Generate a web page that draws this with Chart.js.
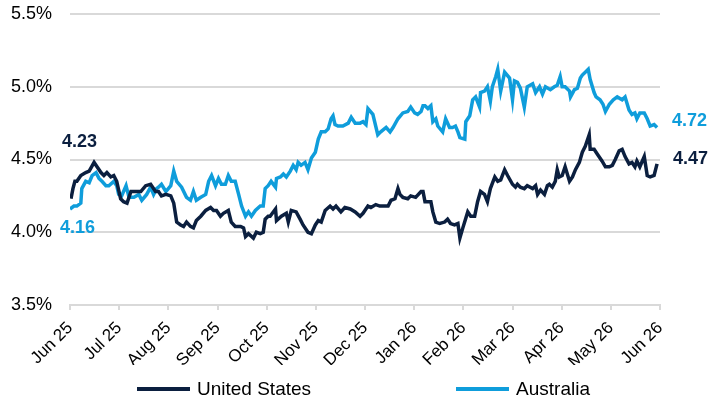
<!DOCTYPE html>
<html>
<head>
<meta charset="utf-8">
<script src="https://cdn.jsdelivr.net/npm/chart.js@4.4.1/dist/chart.umd.min.js"></script>
<style>
  body { margin: 0; background: #fff; }
  #wrap { position: relative; width: 714px; height: 404px; }
  #legend {
    position: absolute; left: 137px; top: 376px;
    font: 19px "Liberation Sans", Arial, sans-serif; color: #000;
    white-space: nowrap; line-height: 26px;
  }
  #legend .item { display: inline-block; }
  #legend .item + .item { margin-left: 145px; }
  #legend i { display: inline-block; width: 53px; height: 4px; vertical-align: middle; margin-right: 7px; position: relative; top: -1px; }
</style>
</head>
<body>
<div id="wrap">
  <canvas id="yieldChart"></canvas>
  <div id="legend"></div>
</div>
<script>
// month ticks (x = months since Jun 2025)
const monthLabels = ['Jun 25', 'Jul 25', 'Aug 25', 'Sep 25', 'Oct 25', 'Nov 25', 'Dec 25',
    'Jan 26', 'Feb 26', 'Mar 26', 'Apr 26', 'May 26', 'Jun 26'];

const yTicks = [3.5, 4.0, 4.5, 5.0, 5.5];

const seriesNames = ['United States', 'Australia'];
const seriesColors = ['#0b1f3f', '#0f9ddb'];

// United States 10y yield, %
const usMonths = [0.02,0.06,0.10,0.14,0.22,0.32,0.39,0.49,0.55,0.63,
    0.69,0.75,0.83,0.89,0.95,1.03,1.09,1.16,1.24,1.34,
    1.44,1.54,1.64,1.74,1.80,1.86,1.95,2.05,2.11,2.17,
    2.25,2.31,2.37,2.45,2.51,2.57,2.66,2.76,2.86,2.92,
    2.98,3.06,3.12,3.22,3.28,3.36,3.47,3.53,3.57,3.63,
    3.73,3.79,3.87,3.93,3.97,4.03,4.07,4.18,4.20,4.30,
    4.40,4.44,4.50,4.60,4.68,4.74,4.84,4.91,4.99,5.05,
    5.11,5.19,5.29,5.35,5.41,5.51,5.59,5.70,5.80,5.90,
    5.96,6.06,6.12,6.22,6.30,6.41,6.47,6.53,6.61,6.67,
    6.71,6.77,6.87,6.93,7.03,7.14,7.18,7.22,7.28,7.34,
    7.38,7.44,7.52,7.62,7.68,7.74,7.82,7.89,7.93,7.99,
    8.09,8.15,8.23,8.29,8.35,8.43,8.49,8.55,8.64,8.70,
    8.76,8.84,8.90,9.00,9.06,9.10,9.16,9.24,9.30,9.41,
    9.47,9.51,9.57,9.65,9.71,9.75,9.81,9.87,9.91,9.95,
    10.01,10.07,10.16,10.22,10.28,10.36,10.42,10.48,10.56,10.58,
    10.66,10.72,10.82,10.89,10.97,11.03,11.09,11.17,11.23,11.29,
    11.37,11.43,11.49,11.53,11.59,11.68,11.74,11.80,11.88,11.94];
const usValues = [4.23,4.30,4.35,4.35,4.39,4.41,4.42,4.48,4.45,4.41,
    4.39,4.41,4.38,4.39,4.35,4.23,4.21,4.20,4.28,4.28,
    4.28,4.32,4.33,4.28,4.28,4.25,4.26,4.25,4.20,4.07,
    4.05,4.04,4.07,4.04,4.03,4.08,4.11,4.15,4.17,4.15,
    4.15,4.11,4.13,4.15,4.07,4.04,4.04,4.03,3.97,3.99,
    3.96,4.00,3.99,4.00,4.09,4.11,4.11,4.16,4.08,4.11,
    4.13,4.07,4.15,4.14,4.09,4.05,4.00,3.99,4.05,4.08,
    4.07,4.15,4.18,4.16,4.18,4.14,4.17,4.16,4.14,4.11,
    4.13,4.18,4.17,4.19,4.18,4.18,4.18,4.22,4.23,4.30,
    4.26,4.24,4.23,4.25,4.24,4.28,4.28,4.21,4.21,4.21,
    4.14,4.07,4.06,4.07,4.09,4.06,4.05,4.06,3.96,4.03,
    4.14,4.11,4.11,4.21,4.28,4.26,4.21,4.30,4.38,4.35,
    4.36,4.43,4.39,4.33,4.31,4.33,4.31,4.30,4.32,4.30,
    4.32,4.26,4.29,4.26,4.32,4.33,4.31,4.35,4.43,4.38,
    4.39,4.45,4.35,4.38,4.43,4.48,4.55,4.59,4.67,4.57,
    4.57,4.54,4.49,4.45,4.45,4.46,4.50,4.56,4.57,4.52,
    4.47,4.48,4.45,4.49,4.45,4.52,4.39,4.38,4.39,4.47];

// Australia 10y yield, %
const auMonths = [0.00,0.02,0.08,0.14,0.22,0.24,0.32,0.39,0.45,0.53,
    0.59,0.65,0.73,0.79,0.89,0.95,0.99,1.05,1.14,1.20,
    1.30,1.40,1.46,1.56,1.64,1.70,1.76,1.80,1.86,1.95,
    2.05,2.11,2.17,2.27,2.37,2.45,2.51,2.57,2.66,2.76,
    2.82,2.88,2.96,3.02,3.08,3.16,3.22,3.28,3.36,3.43,
    3.49,3.57,3.63,3.69,3.77,3.87,3.93,3.97,4.03,4.09,
    4.18,4.20,4.28,4.34,4.40,4.48,4.54,4.60,4.64,4.70,
    4.78,4.84,4.91,4.99,5.05,5.11,5.19,5.25,5.31,5.35,
    5.39,5.45,5.55,5.66,5.72,5.80,5.90,5.96,6.02,6.06,
    6.16,6.26,6.32,6.43,6.51,6.57,6.67,6.77,6.87,6.93,
    7.01,7.07,7.14,7.18,7.22,7.28,7.34,7.38,7.44,7.48,
    7.58,7.64,7.72,7.78,7.84,7.89,7.93,8.03,8.05,8.13,
    8.19,8.25,8.33,8.35,8.43,8.49,8.55,8.59,8.66,8.70,
    8.76,8.84,8.94,9.00,9.04,9.10,9.16,9.24,9.30,9.41,
    9.47,9.55,9.61,9.67,9.77,9.85,9.91,9.97,10.01,10.07,
    10.16,10.18,10.26,10.32,10.38,10.42,10.48,10.54,10.58,10.66,
    10.70,10.78,10.84,10.89,10.97,11.05,11.13,11.23,11.29,11.37,
    11.43,11.49,11.53,11.59,11.68,11.74,11.80,11.88,11.94];
const auValues = [4.16,4.16,4.18,4.18,4.20,4.30,4.35,4.34,4.39,4.41,
    4.37,4.35,4.32,4.32,4.35,4.32,4.26,4.25,4.32,4.24,
    4.24,4.26,4.22,4.26,4.31,4.26,4.30,4.31,4.33,4.28,
    4.32,4.42,4.35,4.31,4.24,4.22,4.28,4.22,4.24,4.26,
    4.35,4.39,4.32,4.37,4.33,4.33,4.39,4.35,4.35,4.26,
    4.18,4.11,4.14,4.11,4.15,4.18,4.18,4.30,4.32,4.35,
    4.31,4.37,4.38,4.40,4.38,4.42,4.46,4.43,4.48,4.46,
    4.48,4.43,4.51,4.55,4.64,4.69,4.69,4.71,4.78,4.80,
    4.74,4.73,4.73,4.75,4.79,4.75,4.75,4.76,4.74,4.85,
    4.81,4.67,4.69,4.72,4.69,4.72,4.78,4.82,4.83,4.86,
    4.82,4.81,4.83,4.87,4.87,4.85,4.87,4.76,4.78,4.73,
    4.69,4.78,4.72,4.72,4.73,4.69,4.65,4.64,4.76,4.80,
    4.91,4.93,4.86,4.96,4.97,5.00,4.90,5.00,5.07,5.12,
    4.97,5.10,5.06,4.91,5.04,5.03,4.99,4.86,5.00,5.02,
    4.96,5.00,4.95,5.00,4.98,5.00,5.01,5.07,5.00,5.00,
    4.97,4.93,4.98,4.99,5.06,5.08,5.10,5.12,5.05,4.96,
    4.93,4.91,4.88,4.83,4.88,4.91,4.93,4.91,4.93,4.84,
    4.81,4.82,4.78,4.82,4.82,4.78,4.73,4.74,4.72];

const FONT = '"Liberation Sans", Arial, sans-serif';
Chart.defaults.font.family = FONT;
Chart.defaults.color = '#000';

function toPoints(xs, ys) {
    return xs.map((x, i) => ({ x: x, y: ys[i] }));
}

// first/last value labels, offsets in px from the end points
const labelOffsets = [
    { start: [-9, -57], end: [16, -5] },
    { start: [-10, 19], end: [15, -6] }
];

const endLabels = {
    id: 'endLabels',
    afterDatasetsDraw(chart) {
        const ctx = chart.ctx;
        ctx.save();
        ctx.font = 'bold 18px ' + FONT;
        ctx.textAlign = 'left';
        ctx.textBaseline = 'middle';
        chart.data.datasets.forEach((ds, i) => {
            const pts = chart.getDatasetMeta(i).data;
            const first = pts[0];
            const last = pts[pts.length - 1];
            const o = labelOffsets[i];
            ctx.fillStyle = ds.borderColor;
            ctx.fillText(ds.data[0].y.toFixed(2), first.x + o.start[0], first.y + o.start[1]);
            ctx.fillText(ds.data[ds.data.length - 1].y.toFixed(2), last.x + o.end[0], last.y + o.end[1]);
        });
        ctx.restore();
    }
};

const canvas = document.getElementById('yieldChart');

new Chart(canvas, {
    type: 'line',
    data: {
        datasets: [
            {
                label: seriesNames[0],
                data: toPoints(usMonths, usValues),
                borderColor: seriesColors[0],
                borderWidth: 3.5,
                pointRadius: 0,
                tension: 0
            },
            {
                label: seriesNames[1],
                data: toPoints(auMonths, auValues),
                borderColor: seriesColors[1],
                borderWidth: 3.5,
                pointRadius: 0,
                tension: 0
            }
        ]
    },
    options: {
        responsive: true,
        maintainAspectRatio: false,
        animation: false,
        layout: {
            padding: { left: 8, right: 54, top: 14, bottom: 39 }
        },
        scales: {
            x: {
                type: 'linear',
                min: 0,
                max: monthLabels.length - 1,
                afterBuildTicks: s => { s.ticks = monthLabels.map((_, i) => ({ value: i })); },
                afterFit: s => { s.height = 60; },
                ticks: {
                    autoSkip: false,
                    maxRotation: 45,
                    minRotation: 45,
                    padding: 8,
                    font: { size: 17 },
                    callback: v => monthLabels[v]
                },
                grid: {
                    drawOnChartArea: false,
                    drawTicks: true,
                    tickLength: 5,
                    color: '#d9d9d9',
                    lineWidth: 2
                },
                border: { display: true, color: '#d9d9d9', width: 2 }
            },
            y: {
                min: yTicks[0],
                max: yTicks[yTicks.length - 1],
                afterBuildTicks: s => { s.ticks = yTicks.map(v => ({ value: v })); },
                afterFit: s => { s.width = 62; },
                ticks: {
                    padding: 2,
                    font: { size: 18 },
                    callback: v => v.toFixed(1) + '%'
                },
                grid: {
                    drawTicks: true,
                    tickLength: 16,
                    tickColor: 'rgba(0,0,0,0)',
                    color: '#d9d9d9',
                    lineWidth: 2
                },
                border: { display: false }
            }
        },
        plugins: {
            legend: { display: false },
            tooltip: { enabled: false }
        }
    },
    plugins: [endLabels]
});

// legend below the axis
const legend = document.getElementById('legend');
seriesNames.forEach((name, i) => {
    const item = document.createElement('span');
    item.className = 'item';
    const sw = document.createElement('i');
    sw.style.background = seriesColors[i];
    item.appendChild(sw);
    item.appendChild(document.createTextNode(name));
    legend.appendChild(item);
});
</script>
</body>
</html>
